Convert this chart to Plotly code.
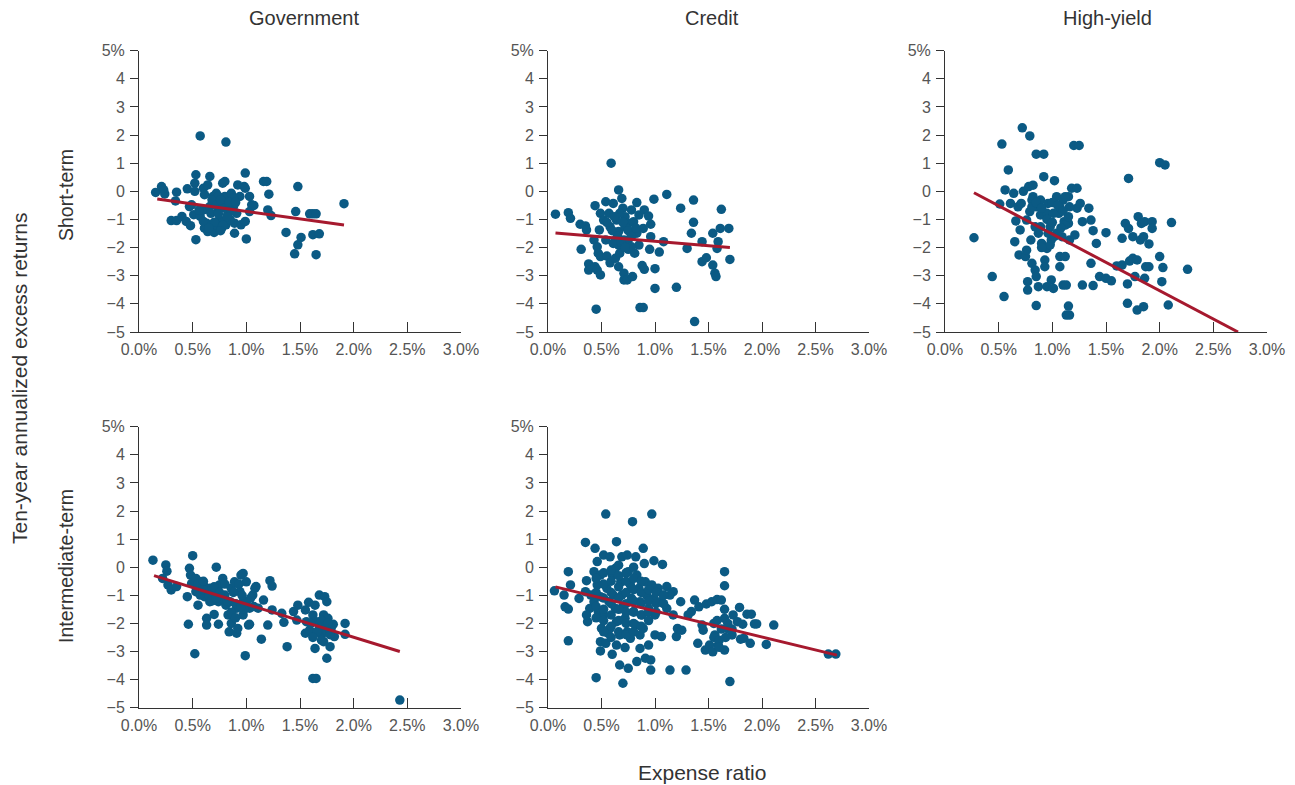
import plotly.graph_objects as go

# ---------------- data (expense ratio %, excess return %) ----------------
gov_short_x = [0.155,0.21,0.23,0.24,0.35,0.34,0.30,0.35,0.40,0.45,0.44,0.48,0.47,0.53,0.52,0.52,0.51,0.53,0.57,0.60,
               0.61,0.64,0.66,0.57,0.60,0.63,0.61,0.64,0.70,0.69,0.71,0.74,0.75,0.77,0.78,0.80,0.81,0.80,0.81,0.83,
               0.85,0.86,0.88,0.89,0.89,0.91,0.92,0.94,0.95,0.99,0.98,0.99,0.99,1.00,1.03,1.05,1.03,1.07,1.16,1.19,
               1.21,1.20,1.23,1.37,1.45,1.48,1.51,1.46,1.48,1.59,1.62,1.65,1.62,1.68,1.65,1.91,
               0.66,0.67,0.72,0.77,0.78,0.81,0.85,0.74,0.88,0.72,0.60,0.56,0.49,
               0.68,0.72,0.76,0.80,0.84,0.86,0.74,0.70,0.78,0.82,0.90,0.76,0.65]
gov_short_y = [-0.04,0.17,0.05,-0.09,-0.03,-0.34,-1.04,-1.04,-0.89,0.09,-1.07,-1.22,-0.54,0.59,0.29,0.0,-0.83,-1.72,1.97,0.11,
               -0.12,0.23,0.53,-0.89,-0.66,-1.13,-1.31,-1.43,-1.46,-0.18,-0.42,-0.66,-1.01,-1.31,0.29,0.35,1.75,-0.18,-0.42,-0.78,
               -0.30,-0.07,-0.54,-1.13,-1.49,-0.78,0.23,-0.18,-1.19,0.65,0.17,0.11,-1.07,-1.69,-0.18,-0.48,-0.72,-0.50,0.35,0.35,
               -0.10,-0.66,-0.86,-1.46,-2.22,-1.90,-1.64,-0.72,0.17,-0.80,-0.80,-0.80,-1.54,-1.51,-2.25,-0.44,
               -0.54,-0.78,-0.07,-0.54,-1.07,-1.19,-1.01,-0.18,-0.24,-1.19,-1.07,-0.66,-0.48,
               -0.30,-0.50,-0.30,-0.60,-0.40,-0.70,-0.80,-1.10,-1.20,-0.90,-0.40,-1.40,-1.30]
gov_short_fit_x = [0.17, 1.91]
gov_short_fit_y = [-0.27, -1.20]

cred_short_x = [0.07,0.19,0.21,0.30,0.35,0.36,0.31,0.38,0.38,0.44,0.46,0.49,0.45,0.44,0.43,0.46,0.47,0.49,0.48,0.49,
                0.52,0.54,0.54,0.55,0.58,0.59,0.61,0.63,0.66,0.64,0.66,0.66,0.66,0.69,0.70,0.71,0.71,0.74,0.75,0.75,
                0.79,0.78,0.80,0.81,0.83,0.85,0.85,0.86,0.89,0.88,0.90,0.90,0.89,0.94,0.96,0.95,0.96,0.99,1.00,1.00,
                1.04,1.08,1.11,1.20,1.24,1.30,1.34,1.36,1.36,1.37,1.44,1.44,1.48,1.54,1.54,1.56,1.57,1.58,1.59,1.61,
                1.62,1.69,1.70,
                0.57,0.58,0.63,0.71,0.72,0.75,0.80,0.72,0.67,0.61,0.78,0.83,0.67,
                0.55,0.60,0.65,0.70,0.75,0.78,0.82,0.68,0.62,0.72]
cred_short_y = [-0.81,-0.76,-0.96,-1.17,-1.23,-1.37,-2.06,-2.58,-2.80,-2.68,-2.80,-2.97,-4.19,-0.51,-1.73,-1.97,-2.20,-2.32,-1.37,-0.78,
                -1.02,-1.73,-0.37,-2.30,-2.54,1.00,-0.43,-2.38,0.05,-1.02,-1.43,-1.91,-2.68,-0.25,-0.60,-2.91,-3.15,-3.15,-1.14,-2.06,
                -3.03,-0.66,-1.49,-2.20,-0.40,-0.84,-1.91,-4.13,-4.13,-2.64,-2.77,-0.66,-1.32,-0.88,-1.17,-2.06,-1.61,-0.28,-3.45,-2.75,
                -2.16,-1.79,-0.11,-3.41,-0.60,-2.03,-1.49,-1.10,-0.31,-4.63,-1.79,-2.50,-2.36,-1.49,-2.62,-2.91,-3.03,-2.03,-1.79,-1.32,
                -0.64,-1.32,-2.42,
                -0.78,-1.26,-1.73,-1.73,-1.26,-1.73,-1.08,-0.90,-0.78,-1.85,-1.97,-1.49,-2.20,
                -1.10,-1.40,-1.60,-1.10,-1.40,-1.60,-1.30,-1.80,-0.90,-2.00]
cred_short_fit_x = [0.07, 1.70]
cred_short_fit_y = [-1.48, -2.00]

hy_short_x = [0.27,0.44,0.51,0.53,0.56,0.55,0.59,0.61,0.64,0.65,0.66,0.68,0.69,0.70,0.71,0.72,0.73,0.75,0.76,0.77,
              0.77,0.78,0.79,0.79,0.80,0.81,0.82,0.82,0.84,0.84,0.85,0.85,0.85,0.87,0.89,0.89,0.90,0.92,0.92,0.93,
              0.93,0.95,0.95,0.96,0.98,0.99,0.99,1.01,1.02,1.04,1.06,1.07,1.07,1.09,1.10,1.10,1.11,1.12,1.13,1.13,
              1.15,1.15,1.16,1.15,1.16,1.18,1.20,1.23,1.25,1.21,1.23,1.26,1.28,1.28,1.34,1.36,1.36,1.38,1.38,1.41,
              1.44,1.50,1.50,1.55,1.60,1.65,1.65,1.68,1.71,1.71,1.70,1.70,1.72,1.75,1.75,1.77,1.79,1.79,1.80,1.82,
              1.83,1.85,1.86,1.86,1.87,1.90,1.90,1.93,1.93,1.85,2.00,2.00,2.02,2.03,2.05,2.08,2.11,2.26,
              0.81,0.85,0.89,0.95,1.01,1.07,1.12,1.16,1.04,0.96,0.87,0.76,0.81,
              0.85,0.90,1.00,1.05,1.10,1.12,1.08,1.15,0.95,1.00,0.98,1.02,0.90]
hy_short_y = [-1.65,-3.03,-0.45,1.68,0.05,-3.74,0.76,-0.43,-0.07,-1.79,-1.05,-0.55,-2.26,-1.37,-0.43,2.26,0.00,-2.32,-2.09,-3.21,
              -3.51,0.17,1.97,-0.72,-1.73,-2.56,-0.19,0.22,-1.26,-2.80,1.32,-3.03,-4.06,-3.39,-0.31,-0.84,-1.85,1.32,0.52,-2.44,
              -2.68,-2.03,-3.39,-0.43,-1.26,-1.73,-3.15,-3.45,0.38,-0.19,-0.78,-2.68,-2.32,-1.61,-3.33,-0.31,-1.08,-2.32,-3.33,-4.40,
              -4.08,-1.14,-4.40,-0.19,-1.73,0.11,1.63,0.11,1.63,-1.55,-0.60,-0.43,-3.33,-1.08,-0.60,-1.02,-2.56,-3.35,-1.40,-1.85,
              -3.03,-1.47,-3.09,-3.18,-2.65,-1.67,-2.62,-1.14,0.46,-1.32,-3.29,-3.98,-2.48,-2.38,-1.61,-3.03,-4.22,-2.44,-0.90,-1.73,
              -1.14,-4.10,-1.08,-3.09,-2.68,-2.68,-1.87,-1.08,-1.32,-1.61,1.02,-2.32,-3.21,-2.71,0.94,-4.04,-1.11,-2.77,
              -0.31,-0.55,-1.26,-0.78,-0.78,-0.55,-0.19,-0.55,-1.49,-1.49,-1.49,-1.02,-0.55,
              -0.40,-0.60,-0.40,-0.50,-0.70,-1.20,-1.30,-0.90,-1.00,-1.10,-1.90,-1.60,-2.00]
hy_short_fit_x = [0.27, 2.73]
hy_short_fit_y = [-0.05, -5.00]

gov_int_x = [0.13,0.25,0.26,0.22,0.27,0.30,0.35,0.45,0.46,0.47,0.48,0.50,0.49,0.52,0.53,0.55,0.57,0.60,0.61,0.63,
             0.63,0.66,0.69,0.70,0.72,0.74,0.74,0.75,0.78,0.80,0.81,0.83,0.84,0.86,0.86,0.89,0.91,0.92,0.95,0.97,
             0.97,0.99,1.00,1.02,1.03,1.06,1.08,1.09,1.11,1.14,1.16,1.20,1.22,1.24,1.24,1.33,1.35,1.38,1.44,1.48,
             1.47,1.55,1.55,1.58,1.59,1.64,1.62,1.65,1.64,1.65,1.68,1.70,1.72,1.73,1.75,1.75,1.76,1.78,1.79,1.81,
             1.82,1.92,1.92,2.43,
             0.91,0.97,0.85,1.00,0.94,0.66,0.57,0.53,0.78,1.03,1.56,1.68,1.72,1.62,1.75,
             0.55,0.60,0.65,0.70,0.75,0.80,0.82,0.88,0.90,0.93,0.96,0.98,1.04,1.07,0.86,0.90,0.95,0.68,0.60,0.72,
             1.60,1.66,1.70,1.74,1.78,1.70,1.62,1.76]
gov_int_y = [0.25,0.08,-0.14,-0.40,-0.63,-0.81,-0.69,-1.05,-2.03,-0.04,-0.28,0.41,-0.58,-3.08,-0.87,-1.35,-0.52,-0.63,-1.05,-1.82,
             -2.06,-0.75,-0.99,-1.68,0.00,-2.03,-1.23,-0.63,-0.40,-0.99,-1.35,-1.70,-2.30,-2.00,-0.75,-0.52,-2.35,-2.18,-0.28,-0.22,
             -1.23,-3.15,-0.52,-2.06,-2.03,-0.99,-0.75,-0.69,-1.46,-2.56,-1.17,-2.06,-0.48,-0.67,-1.52,-1.64,-1.96,-2.83,-1.58,-1.35,
             -1.88,-1.52,-2.35,-1.25,-2.24,-2.89,-3.96,-3.96,-1.35,-1.94,-0.99,-2.41,-1.70,-1.05,-1.23,-3.24,-1.82,-2.83,-2.18,-2.03,
             -2.47,-2.00,-2.39,-4.73,
             -1.46,-1.70,-1.23,-1.23,-0.87,-1.23,-0.99,-0.40,-1.11,-1.46,-1.94,-2.18,-2.65,-1.70,-2.30,
             -0.60,-0.80,-1.00,-0.70,-0.90,-0.60,-1.20,-0.90,-1.30,-0.60,-1.00,-1.50,-1.10,-1.40,-1.60,-1.80,-1.40,-1.20,-0.50,-1.10,
             -2.00,-2.30,-1.90,-2.10,-2.40,-2.60,-2.50,-2.00]
gov_int_fit_x = [0.14, 2.43]
gov_int_fit_y = [-0.30, -3.00]

cred_int_x = [0.06,0.15,0.16,0.19,0.19,0.19,0.21,0.29,0.35,0.36,0.37,0.39,0.44,0.45,0.46,0.49,0.49,0.50,0.52,0.54,
              0.54,0.56,0.58,0.60,0.64,0.64,0.67,0.69,0.70,0.72,0.74,0.75,0.79,0.82,0.83,0.86,0.89,0.90,0.91,0.96,
              0.96,0.94,0.97,0.99,1.00,1.06,1.07,1.11,1.14,1.17,1.20,1.21,1.24,1.25,1.29,1.31,1.34,1.37,1.40,1.41,
              1.44,1.45,1.47,1.48,1.51,1.53,1.54,1.55,1.56,1.58,1.59,1.62,1.65,1.65,1.65,1.65,1.65,1.67,1.70,1.72,
              1.73,1.77,1.79,1.80,1.82,1.83,1.86,1.89,1.90,1.93,1.95,2.04,2.11,2.62,2.69,
              0.43,0.46,0.49,0.43,0.47,0.52,0.57,0.55,0.60,0.61,0.63,0.64,0.63,0.68,0.69,0.70,0.72,0.74,0.75,0.77,
              0.78,0.80,0.82,0.83,0.85,0.86,0.88,0.89,0.91,0.92,0.94,0.97,0.99,1.00,1.03,1.05,1.08,1.11,1.14,1.17,
              0.35,0.40,0.36,0.58,0.67,0.77,0.86,0.66,0.80,0.49,
              0.45,0.45,0.45,0.45,
              0.52,0.52,0.52,0.52,0.52,0.52,
              0.59,0.59,0.59,0.59,0.59,0.59,0.59,
              0.66,0.66,0.66,0.66,0.66,0.66,
              0.73,0.73,0.73,0.73,0.73,0.73,0.73,
              0.80,0.80,0.80,0.80,0.80,0.80,
              0.87,0.87,0.87,0.87,0.87,
              0.94,0.94,0.94,0.94,
              1.01,1.01,1.01,
              1.08,1.08,
              1.55,1.60,1.62,1.58,1.68,1.72,1.60,1.66]
cred_int_y = [-0.84,-0.99,-1.41,-1.49,-2.62,-0.16,-0.63,-1.11,0.88,-0.48,-1.94,-1.47,0.67,-3.93,0.20,-2.98,-2.65,-2.18,0.43,1.89,
              -2.71,-2.35,0.37,-3.10,0.91,-2.77,-3.48,0.37,-4.13,-2.86,0.43,-3.60,1.62,0.37,-3.36,-2.89,0.67,0.13,-3.24,-3.30,
              -3.66,-2.77,1.89,0.23,-2.41,-2.47,0.10,-0.69,-3.66,-0.87,-2.47,-2.18,-1.23,-2.24,-3.66,-1.70,-1.58,-1.17,-2.71,-1.41,
              -2.06,-2.24,-2.95,-1.31,-2.77,-1.23,-3.01,-2.00,-2.41,-1.15,-2.77,-1.17,-0.16,-0.66,-1.50,-1.82,-2.95,-2.18,-4.07,-2.41,
              -1.70,-1.94,-1.43,-2.56,-2.03,-2.53,-1.67,-2.71,-1.67,-2.02,-2.02,-2.75,-2.06,-3.09,-3.09,
              -0.16,-0.63,-1.05,-1.23,-1.58,-1.70,-1.23,-0.75,-0.28,-0.99,-1.47,-1.94,-0.04,-0.52,-0.99,-1.41,-1.82,-2.30,-0.16,-0.63,
              -1.11,-1.58,-2.06,-0.28,-0.75,-1.23,-1.70,-2.18,-0.52,-0.99,-1.47,-0.63,-1.11,-1.70,-0.75,-1.23,-0.99,-1.47,-0.99,-1.70,
              -0.87,-0.99,-1.70,-2.18,-2.41,-2.53,-2.41,0.07,0.00,-0.28,
              -0.40,-0.90,-1.40,-1.80,
              -0.20,-0.60,-1.10,-1.50,-1.90,-2.30,
              -0.10,-0.50,-0.90,-1.30,-1.70,-2.10,-2.50,
              -0.30,-0.70,-1.10,-1.50,-1.90,-2.30,
              -0.20,-0.50,-0.90,-1.30,-1.60,-2.00,-2.40,
              -0.40,-0.80,-1.20,-1.60,-2.00,-2.30,
              -0.50,-0.90,-1.30,-1.70,-2.10,
              -0.80,-1.20,-1.60,-1.90,
              -0.90,-1.30,-1.60,
              -1.00,-1.30,
              -2.50,-2.60,-2.20,-1.90,-2.00,-2.20,-2.85,-2.50]
cred_int_fit_x = [0.07, 2.70]
cred_int_fit_y = [-0.70, -3.13]

x_tick_vals = [0.0, 0.5, 1.0, 1.5, 2.0, 2.5, 3.0]
x_tick_text = ["0.0%", "0.5%", "1.0%", "1.5%", "2.0%", "2.5%", "3.0%"]
y_tick_vals = [-5, -4, -3, -2, -1, 0, 1, 2, 3, 4, 5]
y_tick_text = ["\u22125", "\u22124", "\u22123", "\u22122", "\u22121", "0", "1", "2", "3", "4", "5%"]

col_titles = ["Government", "Credit", "High-yield"]
row_titles = ["Short-term", "Intermediate-term"]

# ---------------- styling ----------------
DOT = "#0B5A84"
LINE = "#A6192E"
FONT = "Liberation Sans"
TICK_COLOR = "#555555"
TEXT_COLOR = "#333333"
AXIS_COLOR = "#333333"

# body margin is removed by a post script, so the figure fills the page
W, H = 1295, 785


def px_x(p):
    return p / W


def px_y(p):
    return 1 - p / H


col_px = [(139, 461), (548, 869), (945, 1267)]
row_px = [(50.7, 332), (426.7, 707.7)]
col_dom = [(px_x(a), px_x(b)) for a, b in col_px]
row_dom = [(px_y(b), px_y(a)) for a, b in row_px]

panels = [
    (0, 0, gov_short_x, gov_short_y, gov_short_fit_x, gov_short_fit_y),
    (0, 1, cred_short_x, cred_short_y, cred_short_fit_x, cred_short_fit_y),
    (0, 2, hy_short_x, hy_short_y, hy_short_fit_x, hy_short_fit_y),
    (1, 0, gov_int_x, gov_int_y, gov_int_fit_x, gov_int_fit_y),
    (1, 1, cred_int_x, cred_int_y, cred_int_fit_x, cred_int_fit_y),
]

fig = go.Figure()
layout_axes = {}
for i, (r, c, xs, ys, fx, fy) in enumerate(panels, start=1):
    xa = "x" if i == 1 else f"x{i}"
    ya = "y" if i == 1 else f"y{i}"
    fig.add_trace(go.Scatter(x=xs, y=ys, mode="markers", xaxis=xa, yaxis=ya,
                             marker=dict(color=DOT, size=9.5, line=dict(width=0)),
                             showlegend=False, hoverinfo="skip", cliponaxis=False))
    fig.add_trace(go.Scatter(x=fx, y=fy, mode="lines", xaxis=xa, yaxis=ya,
                             line=dict(color=LINE, width=3),
                             showlegend=False, hoverinfo="skip", cliponaxis=False))
    key = "" if i == 1 else str(i)
    common = dict(showgrid=False, zeroline=False, showline=True, linecolor=AXIS_COLOR, linewidth=1,
                  tickcolor=AXIS_COLOR, tickwidth=1, automargin=False,
                  tickfont=dict(family=FONT, size=16, color=TICK_COLOR))
    layout_axes[f"xaxis{key}"] = dict(domain=list(col_dom[c]), range=[0, 3.0], anchor=ya,
                                      tickvals=x_tick_vals, ticktext=x_tick_text,
                                      ticks="inside", ticklen=10, ticklabelstandoff=3, **common)
    layout_axes[f"yaxis{key}"] = dict(domain=list(row_dom[r]), range=[-5, 5], anchor=xa,
                                      tickvals=y_tick_vals, ticktext=y_tick_text,
                                      ticks="outside", ticklen=8, ticklabelstandoff=2, **common)


def ann(text, px, py, size, angle=0):
    return dict(text=text, x=px_x(px), y=px_y(py), xref="paper", yref="paper",
                xanchor="center", yanchor="middle", showarrow=False, textangle=angle,
                font=dict(family=FONT, size=size, color=TEXT_COLOR))


annotations = [
    ann(col_titles[0], 303.5, 18, 20),
    ann(col_titles[1], 712, 18, 20),
    ann(col_titles[2], 1107, 18, 20),
    ann(row_titles[0], 66, 195, 19.5, -90),
    ann(row_titles[1], 66, 566, 19.5, -90),
    ann("Ten-year annualized excess returns", 19, 378, 21, -90),
    ann("Expense ratio", 702, 772, 21),
]

fig.update_layout(width=W, height=H, margin=dict(l=0, r=0, t=0, b=0, autoexpand=False),
                  paper_bgcolor="white", plot_bgcolor="white", template="none",
                  hovermode=False, annotations=annotations, **layout_axes)

fig.write_html("out.html",
               config={"displayModeBar": False, "staticPlot": True},
               post_script="document.body.style.margin='0';document.body.style.overflow='hidden';")
